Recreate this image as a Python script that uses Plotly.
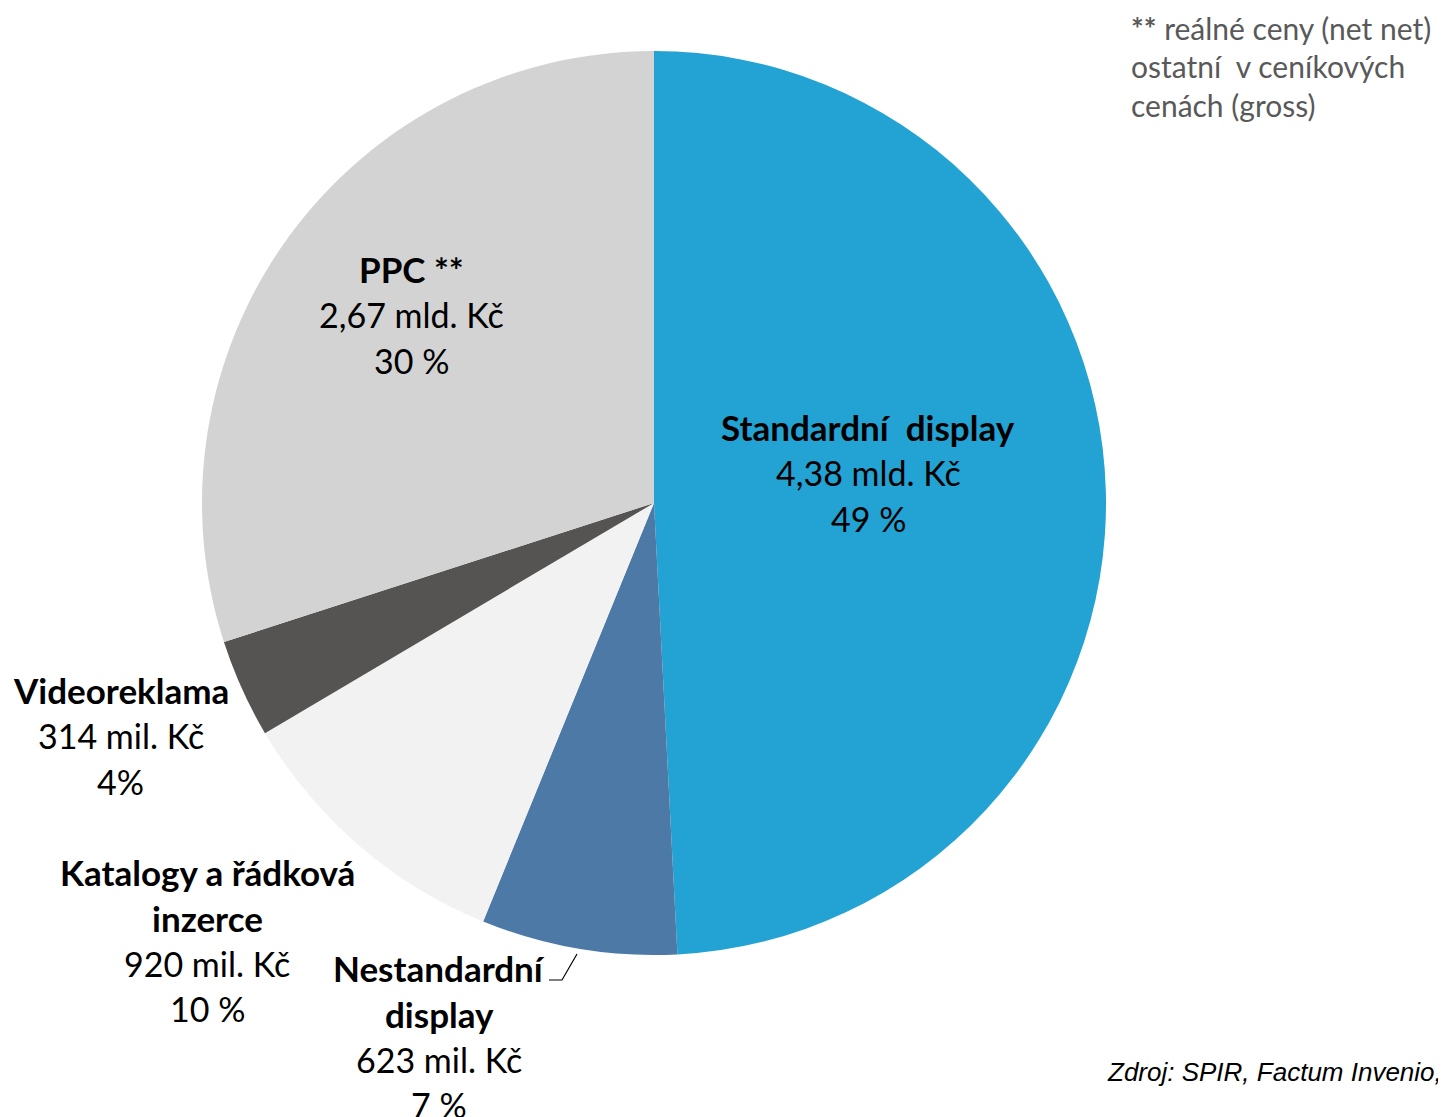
import plotly.graph_objects as go

# page is rendered with an 8px body margin; figure sized so it ends at the window edge
OFF = 8
W, H = 1446 - OFF, 1117 - OFF

categories = ["Standardní display", "Nestandardní display", "Katalogy a řádková inzerce", "Videoreklama", "PPC"]
values_mil = [4380, 623, 920, 314, 2670]
colors = ["#22A3D3", "#4D79A7", "#F2F2F2", "#555452", "#D3D3D3"]

label_bold = [["Standardní\u00a0 display"], ["Nestandardní", "display"], ["Katalogy a řádková", "inzerce"], ["Videoreklama"], ["PPC **"]]
label_value = ["4,38 mld. Kč", "623 mil. Kč", "920 mil. Kč", "314 mil. Kč", "2,67 mld. Kč"]
label_pct = ["49 %", "7 %", "10 %", "4%", "30 %"]
label_pos = [(868, 427), (439, 968), (207, 872), (121, 690), (411, 269)]  # page px

note_lines = ["<b>**</b> reálné ceny (net net)", "ostatní\u00a0 v ceníkových", "cenách (gross)"]
source_text = "Zdroj: SPIR, Factum Invenio,"

cx, cy, r = 654 - OFF, 503 - OFF, 452
FONT = "Lato"
FS = 34
FSB = 35
LS = 45.5


def px(x):
    return (x - OFF) / W


def py(y):
    return 1 - (y - OFF) / H


fig = go.Figure()
fig.add_trace(go.Pie(
    labels=categories, values=values_mil, sort=False, direction="clockwise", rotation=0,
    marker=dict(colors=colors, line=dict(color="#FFFFFF", width=0)),
    textinfo="none", hoverinfo="label+value+percent", showlegend=False,
    domain=dict(x=[(cx - r) / W, (cx + r) / W], y=[(H - cy - r) / H, (H - cy + r) / H]),
))

ann = []
for bold, val, pct, (x, y) in zip(label_bold, label_value, label_pct, label_pos):
    lines = [(f"<b>{b}</b>", FSB) for b in bold] + [(val, FS), (pct, FS)]
    for i, (t, fs) in enumerate(lines):
        ann.append(dict(x=px(x), y=py(y + i * LS), xref="paper", yref="paper",
                        text=t, showarrow=False, xanchor="center", yanchor="middle",
                        font=dict(family=FONT, size=fs, color="#000000")))

for i, t in enumerate(note_lines):
    ann.append(dict(x=px(1129), y=py(28 + i * 38.5), xref="paper", yref="paper",
                    text=t, showarrow=False, xanchor="left", yanchor="middle",
                    font=dict(family=FONT, size=30, color="#595959")))

ann.append(dict(x=px(1105), y=py(1072), xref="paper", yref="paper",
                text=f"<i>{source_text}</i>", showarrow=False, xanchor="left", yanchor="middle",
                font=dict(family="Liberation Sans", size=26, color="#000000")))

fig.update_layout(
    width=W, height=H, margin=dict(l=0, r=0, t=0, b=0),
    paper_bgcolor="white", plot_bgcolor="white",
    annotations=ann,
    shapes=[dict(type="path", xref="paper", yref="paper",
                 path=f"M {px(549)} {py(980)} L {px(562)} {py(980)} L {px(577)} {py(954)}",
                 line=dict(color="#000000", width=1.2))],
)

fig.write_html("out.html")
